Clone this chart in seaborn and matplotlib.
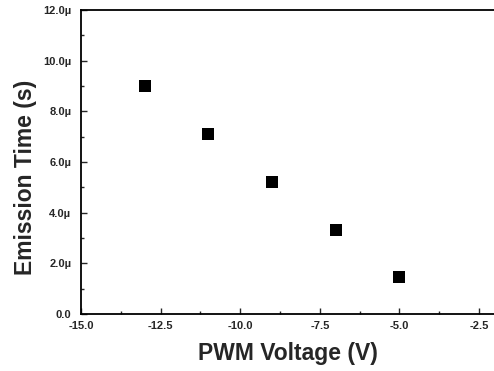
import matplotlib
matplotlib.use("Agg")
import matplotlib.pyplot as plt
import seaborn as sns
import pandas as pd
from matplotlib.ticker import MultipleLocator, FuncFormatter

voltage = [-13, -11, -9, -7, -5]
emission_time = [9.0e-6, 7.1e-6, 5.2e-6, 3.3e-6, 1.45e-6]
x_ticks = [-15.0, -12.5, -10.0, -7.5, -5.0, -2.5]
y_ticks = [0, 2e-6, 4e-6, 6e-6, 8e-6, 10e-6, 12e-6]

sns.set_style("ticks")
plt.rcParams['font.family'] = ['Liberation Sans', 'DejaVu Sans']
plt.rcParams['font.weight'] = 'bold'

df = pd.DataFrame({"PWM Voltage (V)": voltage, "Emission Time (s)": emission_time})

fig = plt.figure(figsize=(4.94, 3.71), dpi=100)
ax = fig.add_axes([81/494, 57/371, 414/494, 304/371])
sns.scatterplot(data=df, x="PWM Voltage (V)", y="Emission Time (s)", marker="s",
                s=70, color="black", edgecolor="black", linewidth=0, ax=ax)

ax.set_xlim(-15, -2.0)
ax.set_ylim(0, 12e-6)
ax.set_xticks(x_ticks)
ax.set_yticks(y_ticks)
ax.xaxis.set_minor_locator(MultipleLocator(1.25))
ax.yaxis.set_minor_locator(MultipleLocator(1e-6))
ax.xaxis.set_major_formatter(FuncFormatter(lambda v, p: f"{v:.1f}"))
ax.yaxis.set_major_formatter(FuncFormatter(lambda v, p: "0.0" if abs(v) < 1e-12 else f"{v*1e6:.1f}\u00b5"))

for lab in ax.get_xticklabels() + ax.get_yticklabels():
    lab.set_fontweight('bold')
ax.tick_params(axis='both', which='major', direction='in', length=4, width=1,
               labelsize=8)
ax.tick_params(axis='y', which='major', pad=7)
ax.tick_params(axis='x', which='major', pad=5)
ax.tick_params(axis='both', which='minor', direction='in', length=2, width=1)
ax.tick_params(top=False, right=False, which='both')

for s in ax.spines.values():
    s.set_linewidth(1.3)
    s.set_color('black')
ax.spines['right'].set_visible(False)

ax.set_xlabel("PWM Voltage (V)", fontsize=16.5, fontweight='bold', labelpad=8)
ax.set_ylabel("Emission Time (s)", fontsize=16.5, fontweight='bold')
ax.yaxis.set_label_coords(-44/414, 137/304)

fig.savefig("out.png", dpi=100)
